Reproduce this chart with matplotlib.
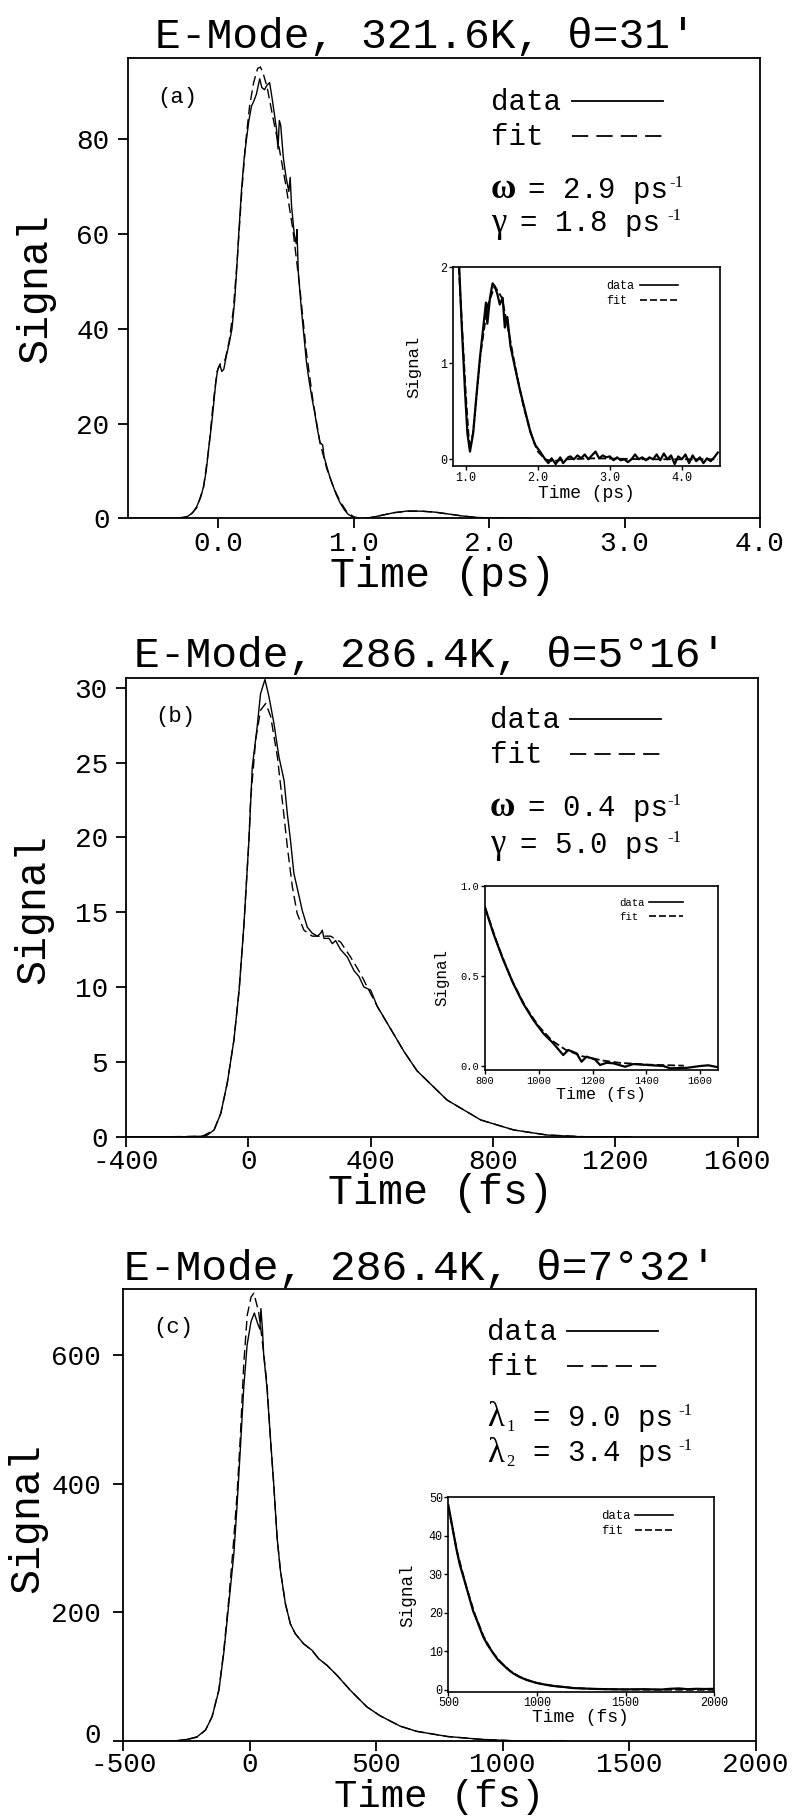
import matplotlib
matplotlib.use("Agg")
import matplotlib.pyplot as plt
import matplotlib.transforms as mtransforms
from matplotlib.lines import Line2D

plt.rcParams['font.family'] = ['Liberation Mono', 'DejaVu Sans Mono', 'DejaVu Sans']
plt.rcParams['axes.unicode_minus'] = False

W, H = 795.0, 1816.0

# ---------------- panel (a) ----------------
a_data_t = [-0.67, -0.40, -0.30, -0.23, -0.19, -0.16, -0.13, -0.11, -0.09, -0.073, -0.05, -0.037,
            -0.02, -0.005, 0.01, 0.025, 0.04, 0.06, 0.08, 0.10, 0.12, 0.134, 0.15, 0.171, 0.19,
            0.207, 0.225, 0.244, 0.26, 0.28, 0.295, 0.305, 0.32, 0.34, 0.36, 0.378, 0.395, 0.41,
            0.43, 0.44, 0.45, 0.46, 0.48, 0.50, 0.52, 0.53, 0.54, 0.56, 0.575, 0.58, 0.59, 0.61,
            0.63, 0.65, 0.67, 0.69, 0.71, 0.73, 0.75, 0.77, 0.78, 0.80, 0.82, 0.84, 0.87, 0.90,
            0.93, 0.96, 0.99, 1.03, 1.07, 1.12, 1.20, 1.30, 1.40, 1.50, 1.60, 1.70, 1.80, 1.90,
            2.00, 2.10, 2.30]
a_data_y = [0, 0, 0.05, 0.35, 1.2, 2.5, 4.5, 6.7, 10, 14.5, 20, 23.6,
            28.5, 31.5, 32.5, 31, 31.5, 34.5, 37, 40, 46, 52, 60, 69.5, 76,
            80, 84, 87, 88, 89.5, 91.5, 92.8, 91, 90.5, 91.5, 92, 89, 86,
            82, 78, 84, 83, 76, 72, 69, 72, 66, 60, 58, 61, 52, 45,
            39, 33, 29, 25.5, 22.5, 19, 16, 15.5, 13, 11, 9, 7.4, 5, 3.2,
            1.8, 0.8, 0.3, 0.0, -0.1, 0.1, 0.6, 1.2, 1.55, 1.5, 1.3, 0.9, 0.5, 0.2,
            0.05, 0.0, 0.0]
a_fit_t = [-0.30, -0.22, -0.16, -0.11, -0.07, -0.04, -0.01, 0.02, 0.05, 0.08, 0.11, 0.14,
           0.17, 0.20, 0.23, 0.26, 0.29, 0.31, 0.33, 0.36, 0.40, 0.45, 0.50, 0.55, 0.60,
           0.65, 0.70, 0.75, 0.80, 0.85, 0.90, 0.95, 1.00, 1.05, 1.10, 1.20, 1.30, 1.40,
           1.50, 1.60, 1.70, 1.80, 1.90, 2.00, 2.20]
a_fit_y = [0, 0.3, 2.2, 6.5, 15, 24, 31, 33, 33.5, 37.5, 44, 55,
           68, 79, 87, 92, 95, 95.3, 94, 91, 85, 78, 70, 61, 49,
           35, 24.5, 16, 10.5, 6.5, 3.5, 1.3, 0.3, 0.0, 0.05, 0.6, 1.2, 1.5,
           1.5, 1.3, 0.9, 0.5, 0.2, 0.05, 0.0]

a_in_data_t = [0.907, 0.94, 0.986, 1.02, 1.056, 1.10, 1.148, 1.195, 1.24, 1.278, 1.297, 1.334,
               1.37, 1.40, 1.436, 1.47, 1.51, 1.54, 1.575, 1.62, 1.68, 1.75, 1.82, 1.89, 1.96,
               2.03, 2.10, 2.145, 2.19, 2.247, 2.31, 2.35, 2.42, 2.45, 2.50, 2.55, 2.60, 2.65,
               2.70, 2.75, 2.80, 2.85, 2.90, 2.95, 3.00, 3.05, 3.10, 3.15, 3.20, 3.25, 3.30,
               3.35, 3.40, 3.45, 3.50, 3.55, 3.60, 3.65, 3.70, 3.75, 3.80, 3.85, 3.90, 3.95,
               4.00, 4.05, 4.10, 4.15, 4.20, 4.25, 4.30, 4.35, 4.40, 4.45, 4.50]
a_in_data_y = [1.99, 1.41, 0.72, 0.27, 0.08, 0.27, 0.68, 1.06, 1.37, 1.63, 1.41, 1.68,
               1.83, 1.80, 1.72, 1.61, 1.68, 1.37, 1.48, 1.17, 0.96, 0.72, 0.51, 0.30, 0.15,
               0.08, 0.0, -0.04, 0.01, -0.05, 0.02, -0.04, 0.02, 0.03, 0.0, 0.04, 0.01, 0.05,
               0.0, 0.04, 0.08, 0.01, 0.04, 0.02, 0.03, -0.01, 0.02, -0.01, 0.0, -0.03, 0.0,
               0.05, 0.0, 0.02, -0.01, 0.02, 0.0, 0.05, -0.01, 0.06, 0.0, 0.04, -0.05, 0.03,
               0.0, 0.05, -0.04, 0.04, -0.02, 0.02, -0.04, 0.01, -0.02, 0.02, 0.07]
a_in_fit_t = [0.90, 1.00, 1.05, 1.10, 1.20, 1.30, 1.40, 1.50, 1.60, 1.70, 1.80, 1.90, 2.00,
              2.10, 2.20, 2.40, 2.80, 3.50, 4.50]
a_in_fit_y = [2.0, 0.65, 0.1, 0.28, 1.08, 1.6, 1.8, 1.68, 1.3, 0.9, 0.55, 0.27, 0.08,
              0.0, -0.02, 0.0, 0.01, 0.0, 0.0]

# ---------------- panel (b) ----------------
b_data_t = [-400, -200, -150, -134, -112, -90, -69, -47, -30, -14, 2, 13, 29, 40, 54.5, 67.6,
            84, 100, 117, 127.5, 138, 149, 163.5, 176.6, 193, 209, 225.6, 236.5, 242, 247.4,
            264, 274.7, 285.6, 302, 324, 345.5, 362, 378, 400, 422, 454, 509, 552, 650, 760,
            868, 978, 1086, 1250]
b_data_y = [0, 0, 0.03, 0.11, 0.45, 1.56, 3.56, 6.46, 9.8, 14.25, 19.8, 24.7, 27.4, 29.6, 30.55,
            29.4, 27.6, 25.4, 23.8, 21.6, 19.8, 17.6, 16.3, 15.1, 14.0, 13.6, 13.4, 13.6, 13.8,
            13.25, 13.25, 12.9, 13.1, 12.5, 12.0, 11.1, 10.7, 10.0, 9.8, 8.7, 7.6, 5.7, 4.4, 2.45,
            1.12, 0.45, 0.11, 0.0, 0.0]
b_fit_t = [-250, -150, -112, -90, -69, -47, -30, -14, 2, 7.6, 24, 40, 57, 73, 95, 111, 127.5,
           144, 160, 182, 209, 236.5, 269, 302, 334.6, 367, 389, 422, 454, 509, 552, 650,
           760, 868, 978, 1100, 1250]
b_fit_y = [0, 0.03, 0.45, 1.56, 3.56, 6.46, 9.8, 14.25, 19.8, 22.5, 26.5, 28.5, 28.95, 28.1,
           25.4, 22.5, 19.4, 16.7, 14.9, 13.8, 13.4, 13.4, 13.4, 13.0, 12.0, 10.9, 10.0, 8.7,
           7.6, 5.7, 4.4, 2.45, 1.12, 0.45, 0.11, 0.0, 0.0]

b_in_data_t = [800, 831, 868, 905, 942, 980, 1017, 1054, 1091, 1110, 1141, 1159, 1178, 1209,
               1228, 1253, 1278, 1321, 1352, 1402, 1464, 1489, 1551, 1600, 1631, 1668]
b_in_data_y = [0.88, 0.736, 0.588, 0.458, 0.347, 0.255, 0.181, 0.126, 0.061, 0.089, 0.07,
               0.024, 0.052, 0.037, 0.006, 0.018, 0.015, -0.004, 0.011, 0.006, 0.0, -0.013,
               -0.01, 0.0, 0.004, -0.007]
b_in_fit_t = [800, 850, 900, 950, 1000, 1050, 1100, 1160, 1240, 1300, 1400, 1540]
b_in_fit_y = [0.88, 0.66, 0.475, 0.33, 0.22, 0.14, 0.09, 0.055, 0.03, 0.018, 0.008, 0.002]

# ---------------- panel (c) ----------------
c_data_t = [-500, -300, -287, -247, -208, -175, -149, -122, -103, -83, -63, -50, -37, -24,
            -10.5, 5, 18, 32, 40, 44, 50, 55, 68, 81.6, 94.7, 108, 121, 141, 160.5, 180, 213,
            246, 272, 305, 345, 397, 463, 516, 595, 660, 781, 913, 1045, 1250]
c_data_y = [0, 0, 0.5, 2.6, 6.7, 17, 37.7, 79, 136, 213, 290.6, 368, 456, 548.6,
            615.7, 652, 665, 648, 640, 672, 640, 600, 548.6, 471, 399, 316, 265, 213, 182,
            166.7, 151, 141, 128, 117.7, 102, 79, 53, 39, 23, 15, 7.0, 2.6, 0.3, 0.0]
c_fit_t = [-300, -250, -208, -175, -149, -122, -103, -83, -66, -50, -37, -24, -10, 5, 16,
           35, 50, 68, 81.6, 94.7, 108, 121, 141, 160.5, 180, 213, 246, 272, 305, 345, 397,
           463, 516, 595, 660, 781, 913, 1045, 1250]
c_fit_y = [0, 2.0, 6.0, 17, 38, 80, 140, 220, 300, 385, 475, 585, 662, 690, 696,
           667, 620, 555, 471, 399, 316, 265, 213, 182, 166.7, 151, 141, 128, 117.7, 102, 79,
           53, 39, 23, 15, 7.0, 2.6, 0.3, 0.0]

c_in_data_t = [500, 510, 519, 530, 547, 565, 585, 600, 622, 640, 660, 680, 697, 720, 754,
               780, 810, 840, 866, 900, 942, 1000, 1055, 1100, 1167, 1200, 1250, 1336, 1400,
               1500, 1600, 1700, 1750, 1800, 1850, 1900, 1950, 2000]
c_in_data_y = [48, 45.5, 43.3, 40.5, 36.3, 32.5, 29.4, 27, 23.4, 20.5, 18.2, 15.8, 13.8, 11.8,
               9.5, 7.8, 6.5, 5.2, 4.3, 3.4, 2.6, 1.8, 1.3, 1.0, 0.7, 0.5, 0.4, 0.26, 0.2,
               0.15, 0.2, 0.1, 0.3, 0.4, 0.2, 0.3, 0.25, 0.3]
c_in_fit_t = [500, 550, 600, 650, 700, 750, 800, 850, 900, 950, 1000, 1100, 1200, 1300,
              1400, 1600, 1800, 2000]
c_in_fit_y = [47.5, 35.8, 27, 19.6, 13.8, 9.7, 7.0, 4.9, 3.5, 2.5, 1.8, 1.0, 0.55, 0.3,
              0.18, 0.08, 0.05, 0.03]

# ---------------- labels ----------------
titles = ["E-Mode, 321.6K, \u03b8=31\u2032",
          "E-Mode, 286.4K, \u03b8=5\u00b016\u2032",
          "E-Mode, 286.4K, \u03b8=7\u00b032\u2032"]
tags = ["(a)", "(b)", "(c)"]
xlabels = ["Time (ps)", "Time (fs)", "Time (fs)"]
param_sym = [["\u03c9", "\u03b3"], ["\u03c9", "\u03b3"], ["\u03bb", "\u03bb"]]
param_sub = [["", ""], ["", ""], ["1", "2"]]
param_val = [["= 2.9 ps", "= 1.8 ps"], ["= 0.4 ps", "= 5.0 ps"], ["= 9.0 ps", "= 3.4 ps"]]

a_xticks = [0, 1, 2, 3, 4]
a_xticklabels = ["0.0", "1.0", "2.0", "3.0", "4.0"]
a_yticks = [0, 20, 40, 60, 80]
b_xticks = [-400, 0, 400, 800, 1200, 1600]
b_yticks = [0, 5, 10, 15, 20, 25, 30]
c_xticks = [-500, 0, 500, 1000, 1500, 2000]
c_yticks = [0, 200, 400, 600]

a_in_xticks = [1, 2, 3, 4]
a_in_xticklabels = ["1.0", "2.0", "3.0", "4.0"]
a_in_yticks = [0, 1, 2]
b_in_xticks = [800, 1000, 1200, 1400, 1600]
b_in_yticks = [0.0, 0.5, 1.0]
b_in_yticklabels = ["0.0", "0.5", "1.0"]
c_in_xticks = [500, 1000, 1500, 2000]
c_in_yticks = [0, 10, 20, 30, 40, 50]


def fx(x):
    return x / W


def fy(y):
    return 1 - y / H


def box(l, t, r, b):
    return [l / W, 1 - b / H, (r - l) / W, (b - t) / H]


fig = plt.figure(figsize=(7.95, 18.16), dpi=100)
fig.patch.set_facecolor("white")

DASH = (0, (7, 3.5))
IDASH = (0, (4.2, 1.8))
LDASH = (0, (9, 4.5))


def style_main(ax, xticks, yticks, xlim, ylim, xtl=None, xpad=2, ypad=6):
    ax.set_xlim(*xlim)
    ax.set_ylim(*ylim)
    ax.set_xticks(xticks)
    if xtl is not None:
        ax.set_xticklabels(xtl)
    ax.set_yticks(yticks)
    for s in ax.spines.values():
        s.set_linewidth(1.3)
    ax.tick_params(direction="out", length=7, width=1.3, labelsize=20,
                   top=False, right=False)
    ax.tick_params(axis="x", pad=xpad)
    ax.tick_params(axis="y", pad=ypad)


def style_inset(ax, xticks, yticks, xlim, ylim, xtl=None, ytl=None, ls=8.5):
    ax.set_xlim(*xlim)
    ax.set_ylim(*ylim)
    ax.set_xticks(xticks)
    ax.set_yticks(yticks)
    if xtl is not None:
        ax.set_xticklabels(xtl)
    if ytl is not None:
        ax.set_yticklabels(ytl)
    for s in ax.spines.values():
        s.set_linewidth(1.2)
    ax.tick_params(direction="out", length=3, width=1.0, labelsize=ls, pad=1,
                   top=False, right=False)


def legend_pair(x_text, y_data, y_fit, x0, x1, size, lw, dash):
    fig.text(fx(x_text), fy(y_data), "data", fontsize=size, ha="left", va="center")
    fig.text(fx(x_text), fy(y_fit), "fit", fontsize=size, ha="left", va="center")
    fig.add_artist(Line2D([fx(x0), fx(x1)], [fy(y_data - 1), fy(y_data - 1)],
                          transform=fig.transFigure, color="black", lw=lw))
    fig.add_artist(Line2D([fx(x0), fx(x1)], [fy(y_fit - 1), fy(y_fit - 1)],
                          transform=fig.transFigure, color="black", lw=lw, linestyle=dash))


def params(i, x_sym, x_val, x_sup, y1, y2):
    for k, yy in enumerate([y1, y2]):
        sym = param_sym[i][k]
        fig.text(fx(x_sym), fy(yy), sym, fontsize=25, ha="left", va="center",
                 family=["Liberation Serif", "DejaVu Serif"],
                 fontweight="bold" if sym == "\u03c9" else "normal")
        if param_sub[i][k]:
            fig.text(fx(x_sym + 19), fy(yy + 9), param_sub[i][k], fontsize=12,
                     ha="left", va="center", family=["Liberation Serif", "DejaVu Serif"])
        fig.text(fx(x_val[k]), fy(yy), param_val[i][k], fontsize=21, ha="left", va="center")
        fig.text(fx(x_sup[k]), fy(yy - 7), "-1", fontsize=12, ha="left", va="center",
                 family=["Liberation Serif", "DejaVu Serif"])


# ---------- (a) ----------
ax = fig.add_axes(box(127.7, 58, 760, 518.3))
ax.plot(a_data_t, a_data_y, color="black", lw=1.0)
ax.plot(a_fit_t, a_fit_y, color="black", lw=1.0, linestyle=DASH)
style_main(ax, a_xticks, a_yticks, (-0.67, 4.0), (0, 97.2), a_xticklabels)

ins = fig.add_axes(box(453, 267, 720, 466))
ins.plot(a_in_data_t, a_in_data_y, color="black", lw=1.6)
ins.plot(a_in_fit_t, a_in_fit_y, color="black", lw=1.3, linestyle=IDASH)
style_inset(ins, a_in_xticks, a_in_yticks, (0.82, 4.53), (-0.07, 2.0), a_in_xticklabels)

# ---------- (b) ----------
bx = fig.add_axes(box(126, 677.7, 757.7, 1136.7))
bx.plot(b_data_t, b_data_y, color="black", lw=1.0)
bx.plot(b_fit_t, b_fit_y, color="black", lw=1.0, linestyle=DASH)
style_main(bx, b_xticks, b_yticks, (-400, 1666), (0, 30.67))

ins_b = fig.add_axes(box(485, 885.7, 718.3, 1070))
ins_b.plot(b_in_data_t, b_in_data_y, color="black", lw=1.6)
ins_b.plot(b_in_fit_t, b_in_fit_y, color="black", lw=1.3, linestyle=IDASH)
style_inset(ins_b, b_in_xticks, b_in_yticks, (800, 1668), (-0.022, 1.0),
            None, b_in_yticklabels, ls=7.5)

# ---------- (c) ----------
cx = fig.add_axes(box(123.3, 1289.3, 755.7, 1741))
cx.plot(c_data_t, c_data_y, color="black", lw=1.0)
cx.plot(c_fit_t, c_fit_y, color="black", lw=1.0, linestyle=DASH)
style_main(cx, c_xticks, c_yticks, (-500, 2000), (0, 702), xpad=1, ypad=9)
# lift the "0" label a little so it clears the "-500" below it
zero_lbl = cx.yaxis.get_major_ticks()[0].label1
zero_lbl.set_transform(zero_lbl.get_transform() +
                       mtransforms.ScaledTranslation(0, 8 / 100, fig.dpi_scale_trans))

ins_c = fig.add_axes(box(448.3, 1497.3, 714.3, 1691.7))
ins_c.plot(c_in_data_t, c_in_data_y, color="black", lw=1.6)
ins_c.plot(c_in_fit_t, c_in_fit_y, color="black", lw=1.3, linestyle=IDASH)
style_inset(ins_c, c_in_xticks, c_in_yticks, (500, 2000), (-0.45, 50))

# ---------- texts ----------
title_pos = [(425, 48), (430, 667), (420, 1280)]
for t, (x, y) in zip(titles, title_pos):
    fig.text(fx(x), fy(y), t, fontsize=31, ha="center", va="baseline")

for t, (x, y) in zip(tags, [(177, 97), (175, 716), (173, 1327)]):
    fig.text(fx(x), fy(y), t, fontsize=16, ha="center", va="center")

for t, (x, y), s in zip(xlabels, [(443, 576), (441, 1193), (439, 1797)], [30, 30, 28]):
    fig.text(fx(x), fy(y), t, fontsize=s, ha="center", va="center")

for (x, y) in [(35, 288), (33, 909), (27, 1518)]:
    fig.text(fx(x), fy(y), "Signal", fontsize=30, ha="center", va="center", rotation=90)

legend_pair(491, 102, 137, 572, 663, 21, 1.3, LDASH)
legend_pair(490, 720, 755, 570, 661, 21, 1.3, LDASH)
legend_pair(487, 1332, 1367, 567, 658, 21, 1.3, LDASH)

params(0, 491, [528, 520], [669, 667], 190, 223)
params(1, 490, [528, 520], [667, 667], 808, 845)
params(2, 487, [533, 533], [678, 678], 1418, 1453)

# inset labels
legend_pair(606.7, 286, 301, 640, 678, 8.5, 1.2, IDASH)
legend_pair(619, 903, 917, 649, 683, 7.7, 1.2, IDASH)
legend_pair(601, 1516, 1531, 635, 673, 8.9, 1.2, IDASH)

for t, (x, y), s in zip(["Time (ps)", "Time (fs)", "Time (fs)"],
                        [(586, 493), (601, 1094), (580, 1718)], [13, 12, 13]):
    fig.text(fx(x), fy(y), t, fontsize=s, ha="center", va="center")
for (x, y), s in zip([(414, 367), (442, 978), (408, 1595)], [12.5, 11.3, 12.7]):
    fig.text(fx(x), fy(y), "Signal", fontsize=s, ha="center", va="center", rotation=90)

fig.savefig("out.png", dpi=100, facecolor="white")
